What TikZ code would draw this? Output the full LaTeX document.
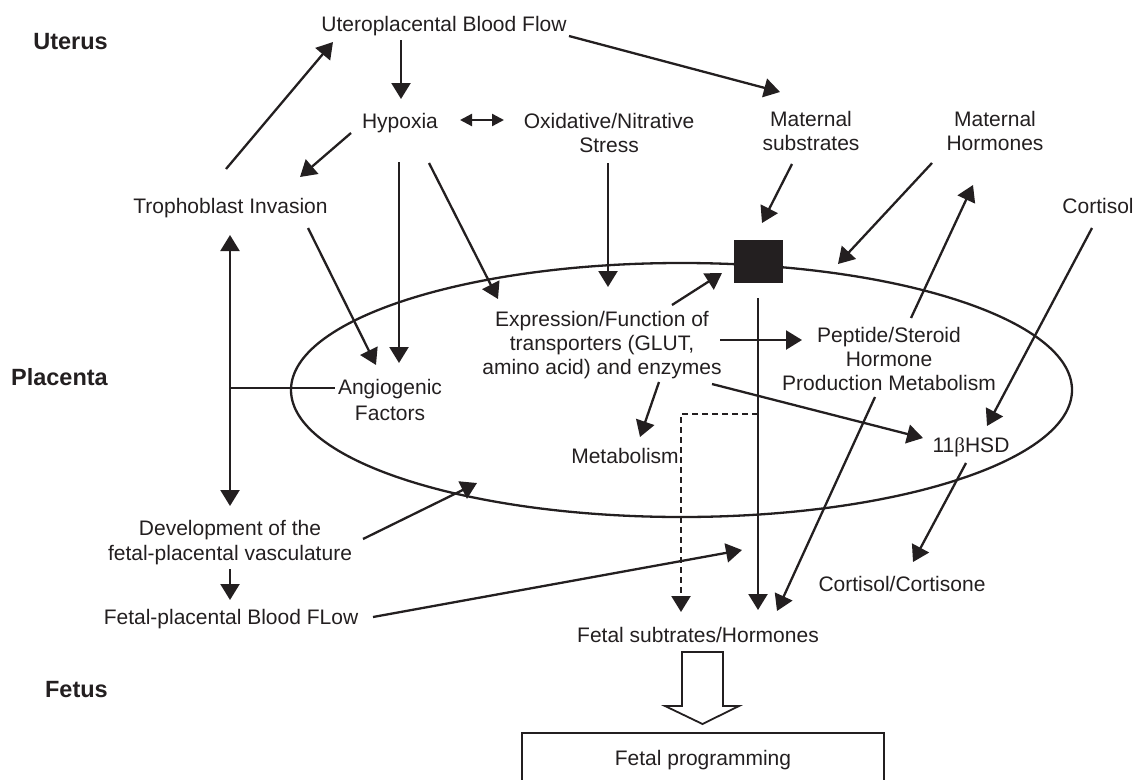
\documentclass[tikz,border=0pt]{standalone}
\usepackage{fontspec}
\setmainfont{Liberation Sans}
\newfontfamily\greekserif{Liberation Serif}
\usetikzlibrary{arrows.meta,shapes.geometric}
\definecolor{ink}{RGB}{35,31,32}
% centred multi-line label whose baseline is the first line
\newcommand{\mlines}[1]{\begin{tabular}[t]{@{}c@{}}#1\end{tabular}}

\begin{document}
\begin{tikzpicture}[x=1pt,y=-1pt,
  lbl/.style={font=\fontsize{21}{24}\selectfont, inner sep=0pt, anchor=base, text=ink},
  region/.style={font=\bfseries\fontsize{23.5}{28}\selectfont, inner sep=0pt, anchor=base east, text=ink},
  link/.style={draw=ink, line width=2.3pt},
  arr/.style={link, -{Triangle[length=16pt,width=19pt]}},
  twoway/.style={link, {Triangle[length=16pt,width=19pt]}-{Triangle[length=16pt,width=19pt]}},
  dbl/.style={link, {Triangle[length=12pt,width=12pt]}-{Triangle[length=12pt,width=12pt]}},
  dashline/.style={dash pattern=on 6pt off 4pt}]
\useasboundingbox (0,0) rectangle (1137,779);
\clip (0,0) rectangle (1137,779);

% placenta outline and the transporter block
\node[draw=ink, line width=2.3pt, ellipse, minimum width=781pt, minimum height=254pt, inner sep=0pt] (plac) at (681.5,390) {};
\node[fill=ink, minimum width=49pt, minimum height=43pt, inner sep=0pt] (sq) at (758.5,261.5) {};

% compartment labels
\node[region] (uterus) at (108,49) {Uterus};
\node[region] (placenta) at (108,385) {Placenta};
\node[region] (fetus) at (108,697) {Fetus};

% text nodes
\node[lbl] (ubf) at (444,31) {Uteroplacental Blood Flow};
\node[lbl] (hyp) at (400,128) {Hypoxia};
\node[lbl] (oxs) at (609,128) {\mlines{Oxidative/Nitrative\\Stress}};
\node[lbl] (matsub) at (811,126) {\mlines{Maternal\\substrates}};
\node[lbl] (mathorm) at (995,126) {\mlines{Maternal\\Hormones}};
\node[lbl] (cort) at (1098,213) {Cortisol};
\node[lbl] (troph) at (230.5,213) {Trophoblast Invasion};
\node[lbl] (ang) at (390,394) {\mlines{Angiogenic\\[2pt]Factors}};
\node[lbl] (expr) at (602,326) {\mlines{Expression/Function of\\transporters (GLUT,\\amino acid) and enzymes}};
\node[lbl] (pep) at (889,342) {\mlines{Peptide/Steroid\\Hormone\\Production Metabolism}};
\node[lbl] (metab) at (625,463) {Metabolism};
\node[lbl] (hsd) at (971,452) {11{\greekserif β}HSD};
\node[lbl] (cortc) at (902,591) {Cortisol/Cortisone};
\node[lbl] (devel) at (230,535) {\mlines{Development of the\\[1pt]fetal-placental vasculature}};
\node[lbl] (fpbf) at (231,624) {Fetal-placental Blood FLow};
\node[lbl] (fetsub) at (698,642) {Fetal subtrates/Hormones};
\node[draw=ink, line width=2pt, minimum width=362pt, minimum height=50pt, text height=15pt, text depth=0pt,
      inner sep=0pt, font=\fontsize{21}{24}\selectfont, text=ink] (fprog) at (703,758) {Fetal programming};

% uterine level
\draw[arr] ([shift={(-4.5,-44)}]troph.base) -- ([shift={(-111,11)}]ubf.base);
\draw[arr] ([shift={(-43,9)}]ubf.base) -- ([shift={(1,-29)}]hyp.base);
\draw[arr] ([shift={(125,5)}]ubf.base) -- ([shift={(-31,-34)}]matsub.base);
\draw[dbl] ([shift={(60,-8)}]hyp.base) -- ([shift={(-105,-8)}]oxs.base);
\draw[arr] ([shift={(-49,5)}]hyp.base) -- ([shift={(69.5,-36)}]troph.base);
\draw[arr] ([shift={(-1,34)}]hyp.base) -- ([shift={(9,-31)}]ang.base);
\draw[arr] ([shift={(29,35)}]hyp.base) -- ([shift={(-104,-27)}]expr.base);
\draw[arr] ([shift={(-1,35)}]oxs.base) -- ([shift={(6,-39)}]expr.base);
\draw[arr] ([shift={(77.5,15)}]troph.base) -- ([shift={(-14,-29)}]ang.base);
\draw[twoway] ([shift={(-0.5,22)}]troph.base) -- ([shift={(0,-29)}]devel.base);
\coordinate (angjoin) at (230,388);
\draw[link] (angjoin) -- ([shift={(-55,-6)}]ang.base);

% maternal inputs
\draw[arr] ([shift={(-19,38)}]matsub.base) -- ([shift={(3.5,-38.5)}]sq.center);
\draw[arr] ([shift={(-63,37)}]mathorm.base) -- ([shift={(156.5,-126)}]plac.center);
\draw[arr] ([shift={(22,-24)}]pep.base) -- ([shift={(-22,59)}]mathorm.base);
\draw[arr] ([shift={(-6,15)}]cort.base) -- ([shift={(16,-26)}]hsd.base);

% placental level
\draw[arr] ([shift={(70,-21)}]expr.base) -- ([shift={(-36.5,11.5)}]sq.center);
\draw[arr] ([shift={(118,14)}]expr.base) -- ([shift={(-87,-2)}]pep.base);
\draw[arr] ([shift={(110,58)}]expr.base) -- ([shift={(-48,-14)}]hsd.base);
\draw[arr] ([shift={(57,56)}]expr.base) -- ([shift={(15,-26)}]metab.base);
\draw[arr] ([shift={(-0.5,36.5)}]sq.center) -- ([shift={(60,-32)}]fetsub.base);
\draw[arr, dashline] ([shift={(-0.5,152.5)}]sq.center) -| ([shift={(-17,-30)}]fetsub.base);
\draw[arr] ([shift={(-14,55)}]pep.base) -- ([shift={(79,-31)}]fetsub.base);
\draw[arr] ([shift={(-5,11)}]hsd.base) -- ([shift={(11,-29)}]cortc.base);

% fetal side
\draw[arr] ([shift={(133,4)}]devel.base) -- ([shift={(-204.5,93)}]plac.center);
\draw[arr] ([shift={(0,34)}]devel.base) -- ([shift={(-1,-24)}]fpbf.base);
\draw[arr] ([shift={(142,-7)}]fpbf.base) -- ([shift={(60.5,160)}]plac.center);

% hollow block arrow towards fetal programming
\draw[draw=ink, line width=1.8pt, fill=white, line join=miter]
  (682,652) -- (723,652) -- (723,706) -- (739,706) -- (702.5,724) -- (665,706) -- (682,706) -- cycle;
\end{tikzpicture}
\end{document}
